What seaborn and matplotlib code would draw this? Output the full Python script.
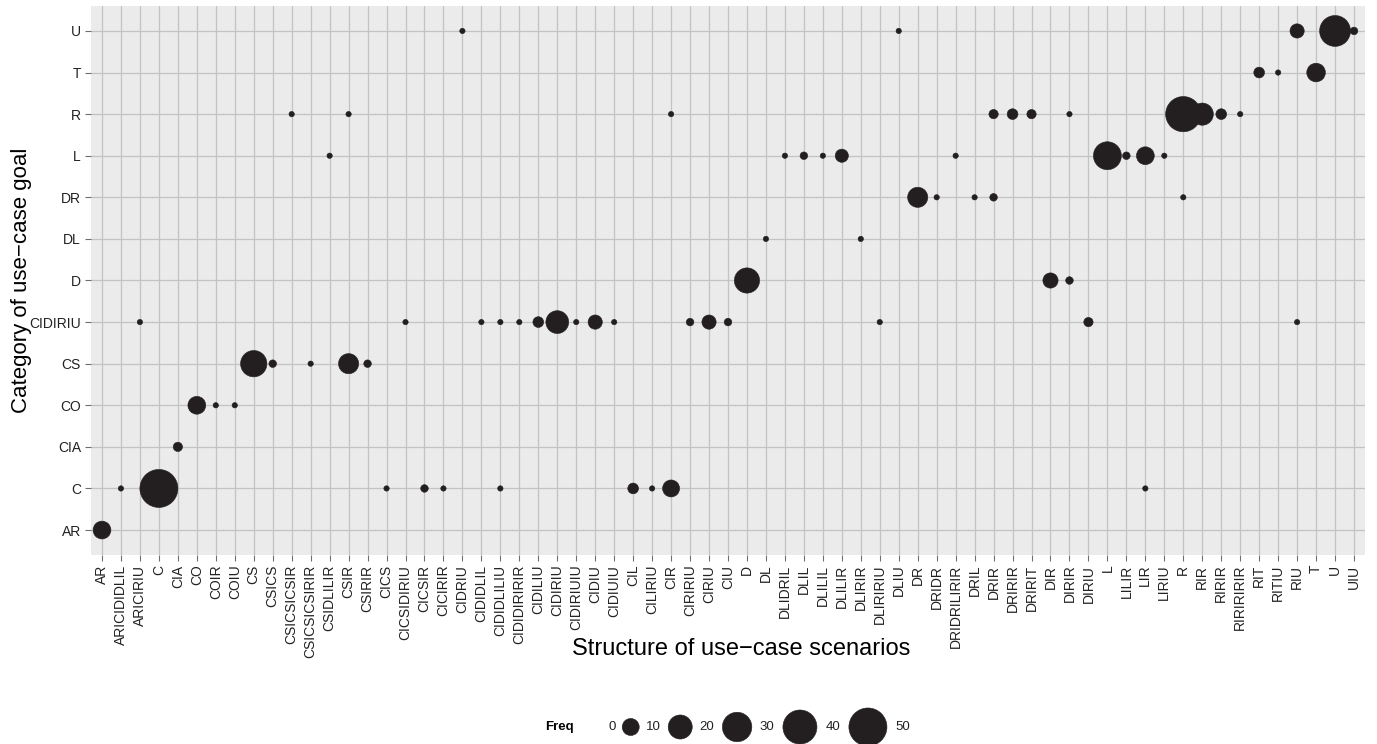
import numpy as np
import pandas as pd
import matplotlib
matplotlib.use("Agg")
import matplotlib.pyplot as plt
import seaborn as sns
from matplotlib.offsetbox import HPacker, TextArea, DrawingArea, AnchoredOffsetbox
from matplotlib.patches import Circle

# ---- categories ---------------------------------------------------------
goals = ["AR", "C", "CIA", "CO", "CS", "CIDIRIU", "D", "DL", "DR", "L", "R", "T", "U"]

scenarios = [
    "AR", "ARICIDIDLIL", "ARICIRIU", "C", "CIA", "CO", "COIR", "COIU", "CS", "CSICS",
    "CSICSICSIR", "CSICSICSIRIR", "CSIDLILIR", "CSIR", "CSIRIR", "CICS", "CICSIDIRIU",
    "CICSIR", "CICIRIR", "CIDRIU", "CIDIDLIL", "CIDIDLILIU", "CIDIDIRIRIR", "CIDILIU",
    "CIDIRIU", "CIDIRIUIU", "CIDIU", "CIDIUIU", "CIL", "CILIRIU", "CIR", "CIRIRIU",
    "CIRIU", "CIU", "D", "DL", "DLIDRIL", "DLIL", "DLILIL", "DLILIR", "DLIRIR",
    "DLIRIRIU", "DLIU", "DR", "DRIDR", "DRIDRILIRIR", "DRIL", "DRIR", "DRIRIR", "DRIRIT",
    "DIR", "DIRIR", "DIRIU", "L", "LILIR", "LIR", "LIRIU", "R", "RIR", "RIRIR",
    "RIRIRIRIR", "RIT", "RITIU", "RIU", "T", "U", "UIU",
]

# ---- observed (scenario, goal, frequency) -------------------------------
pt_scenario = [
    # U
    "CIDRIU", "DLIU", "RIU", "U", "UIU",
    # T
    "RIT", "RITIU", "T",
    # R
    "CSICSICSIR", "CSIR", "CIR", "DRIR", "DRIRIR", "DRIRIT", "DIRIR", "R", "RIR",
    "RIRIR", "RIRIRIRIR",
    # L
    "CSIDLILIR", "DLIDRIL", "DLIL", "DLILIL", "DLILIR", "DRIDRILIRIR", "L", "LILIR",
    "LIR", "LIRIU",
    # DR
    "DR", "DRIDR", "DRIL", "DRIR", "R",
    # DL
    "DL", "DLIRIR",
    # D
    "D", "DIR", "DIRIR",
    # CIDIRIU
    "ARICIRIU", "CICSIDIRIU", "CIDIDLIL", "CIDIDLILIU", "CIDIDIRIRIR", "CIDILIU",
    "CIDIRIU", "CIDIRIUIU", "CIDIU", "CIDIUIU", "CIRIRIU", "CIRIU", "CIU", "DLIRIRIU",
    "DIRIU", "RIU",
    # CS
    "CS", "CSICS", "CSICSICSIRIR", "CSIR", "CSIRIR",
    # CO
    "CO", "COIR", "COIU",
    # CIA
    "CIA",
    # C
    "ARICIDIDLIL", "C", "CICS", "CICSIR", "CICIRIR", "CIDIDLILIU", "CIL", "CILIRIU",
    "CIR", "LIR",
    # AR
    "AR",
]

pt_goal = (
    ["U"] * 5 + ["T"] * 3 + ["R"] * 11 + ["L"] * 10 + ["DR"] * 5 + ["DL"] * 2
    + ["D"] * 3 + ["CIDIRIU"] * 16 + ["CS"] * 5 + ["CO"] * 3 + ["CIA"] * 1
    + ["C"] * 10 + ["AR"] * 1
)

pt_freq = [
    1, 1, 7, 33, 2,
    4, 1, 12,
    1, 1, 1, 3, 4, 3, 1, 43, 17, 4, 1,
    1, 1, 2, 1, 6, 1, 27, 2, 11, 1,
    14, 1, 1, 2, 1,
    1, 1,
    22, 8, 2,
    1, 1, 1, 1, 1, 4, 18, 1, 7, 1, 2, 7, 2, 1, 3, 1,
    24, 2, 1, 14, 2,
    11, 1, 1,
    3,
    1, 51, 1, 2, 1, 1, 4, 1, 10, 1,
    11,
]

legend_breaks = [0, 10, 20, 30, 40, 50]

# ---- frame ----------------------------------------------------------------
df = pd.DataFrame({
    "Scenario": pd.Categorical(pt_scenario, categories=scenarios),
    "Goal": pd.Categorical(pt_goal, categories=goals),
    "Freq": pt_freq,
})
df["xpos"] = df["Scenario"].cat.codes
df["ypos"] = df["Goal"].cat.codes

W, H, DPI = 1377, 744, 100
INK = "#231f20"
AREA_PER_UNIT = 15.0          # marker area (pt^2) per unit of frequency
SIZE_MAX = 50
EDGE = 0.4                    # thin outline in the fill colour, as ggplot's stroke

sns.set_theme(style="darkgrid", rc={
    "axes.facecolor": "#ebebeb",
    "grid.color": "#c3c3c3",
    "grid.linewidth": 0.9,
    "axes.edgecolor": "none",
})
plt.rcParams["font.family"] = ["Liberation Sans", "DejaVu Sans"]

fig = plt.figure(figsize=(W / DPI, H / DPI), dpi=DPI)
left, right, top, bottom = 90.6, 1365.4, 6.0, 555.0
ax = fig.add_axes([left / W, 1 - bottom / H, (right - left) / W, (bottom - top) / H])

sns.scatterplot(
    data=df, x="xpos", y="ypos", size="Freq",
    sizes=(0, AREA_PER_UNIT * SIZE_MAX), size_norm=(0, SIZE_MAX),
    color=INK, edgecolor=INK, linewidth=EDGE, alpha=1, legend=False, ax=ax,
)

ax.set_xlim(-0.6, len(scenarios) - 0.4)
ax.set_ylim(-0.6, len(goals) - 0.4)
ax.set_xticks(np.arange(len(scenarios)))
ax.set_xticklabels(scenarios, rotation=90, fontsize=10, color="#222222")
ax.set_yticks(np.arange(len(goals)))
ax.set_yticklabels(goals, fontsize=10, color="#222222")
ax.tick_params(axis="both", which="major", length=4.5, width=0.8, color="#6e6e6e",
               pad=2.5, bottom=True, left=True)
ax.grid(True, which="major")
for sp in ax.spines.values():
    sp.set_visible(False)

ax.set_xlabel("Structure of use\u2212case scenarios", fontsize=17, color="black")
ax.set_ylabel("Category of use\u2212case goal", fontsize=16, color="black")
ax.xaxis.set_label_coords(0.51, -(638 - bottom) / (bottom - top))
ax.yaxis.set_label_coords(-(left - 32) / (right - left), 0.5)

# ---- size legend ----------------------------------------------------------
px = 72.0 / DPI
items = []
for b in legend_breaks:
    d = np.sqrt(AREA_PER_UNIT * b)            # marker diameter in points
    kw = max(17 * px, 1.2 * d)
    kh = max(17 * px, d)
    da = DrawingArea(kw, kh, 0, 0)
    if d > 0:
        da.add_artist(Circle((kw / 2, kh / 2), d / 2, facecolor=INK,
                             edgecolor=INK, linewidth=EDGE))
    lab = TextArea(str(b), textprops=dict(fontsize=9.5, color="#222222"))
    items.append(HPacker(children=[da, lab], sep=5 * px, align="center", pad=0))

keys = HPacker(children=items, sep=5 * px, align="center", pad=0)
title = TextArea("Freq", textprops=dict(fontsize=9.5, fontweight="bold", color="black"))
legend_box = HPacker(children=[title, keys], sep=12 * px, align="center", pad=0)

anchored = AnchoredOffsetbox(
    loc="center", child=legend_box, pad=0, borderpad=0, frameon=False,
    bbox_to_anchor=((left + right) / 2 / W, 1 - 727 / H),
    bbox_transform=fig.transFigure,
)
fig.add_artist(anchored)

fig.savefig("out.png", dpi=DPI)
